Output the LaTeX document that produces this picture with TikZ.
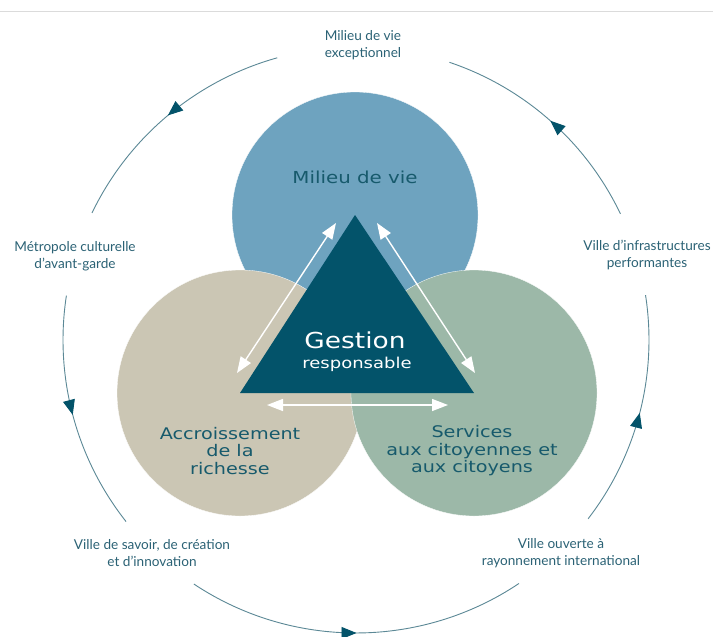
\documentclass[tikz,border=0pt]{standalone}
\usepackage{fontspec}
\setmainfont{Lato}
\newfontfamily\techfont{DejaVu Sans}
\usetikzlibrary{arrows.meta,decorations.markings}
\definecolor{blucirc}{HTML}{6EA3BF}
\definecolor{begcirc}{HTML}{CBC6B4}
\definecolor{grncirc}{HTML}{9CB8A8}
\definecolor{tricol}{HTML}{03536A}
\definecolor{techcol}{HTML}{175A6C}
\definecolor{outcol}{HTML}{2B6275}
\definecolor{arccol}{HTML}{5B8896}
\newcommand{\tx}[1]{\scalebox{1.2}[1]{#1}}
\tikzset{
  outer/.style={text=outcol, align=center, inner sep=0pt, font=\fontsize{13.6}{17}\selectfont},
  tech/.style={text=techcol, align=center, inner sep=0pt, font=\techfont\fontsize{16}{17.5}\selectfont},
  cycarc/.style={draw=arccol, line width=0.9pt, postaction={decorate},
    decoration={markings, mark=at position 0.5 with {\arrow[tricol]{Triangle[length=15pt,width=12pt]}}}},
  whitearr/.style={draw=white, line width=1.4pt, {Triangle[length=16pt,width=12pt]}-{Triangle[length=16pt,width=12pt]}},
  circ/.style={draw=white, line width=0.3pt}
}
\begin{document}
\begin{tikzpicture}[x=1pt,y=-1pt]
\useasboundingbox (0,0) rectangle (713,637);
\fill[white] (0,0) rectangle (713,637);
\draw[color=black!14, line width=1pt] (0,11.5) -- (713,11.5);
% circles
\coordinate (cB) at (355,215);
\coordinate (cL) at (240,393);
\coordinate (cR) at (474,393);
\fill[blucirc,circ] (cB) circle[radius=123];
\fill[begcirc,circ] (cL) circle[radius=123];
\fill[grncirc,circ] (cR) circle[radius=123];
% triangle
\fill[tricol] (cB) -- (cL) -- (cR) -- cycle;
% white double arrows
\coordinate (aL1) at (336,223); \coordinate (aL2) at (237,373);
\coordinate (aR1) at (377,223); \coordinate (aR2) at (475,373);
\coordinate (aB1) at (267,405); \coordinate (aB2) at (448,405);
\draw[whitearr] (aL1) -- (aL2);
\draw[whitearr] (aR1) -- (aR2);
\draw[whitearr] (aB1) -- (aB2);
% center texts
\node[text=white, inner sep=0pt, font=\techfont\fontsize{22}{22}\selectfont, anchor=base] (gest) at (355,348) {\tx{Gestion}};
\node[text=white, inner sep=0pt, font=\techfont\fontsize{15}{15}\selectfont, anchor=base] (resp) at (357,368) {\tx{responsable}};
\node[tech, font=\techfont\fontsize{16.5}{18}\selectfont, anchor=base] (milieu) at (355,183) {\tx{Milieu de vie}};
\node[tech] (accr) at (230,451) {\tx{Accroissement}\\\tx{de la}\\\tx{richesse}};
\node[tech] (serv) at (472,451) {\tx{Services}\\\tx{aux citoyennes et}\\\tx{aux citoyens}};
% outer cycle
\coordinate (C) at (356,340);
\draw[cycarc] ([shift={(-105.6:293)}]C) arc[start angle=-105.6, end angle=-154.3, radius=293];
\draw[cycarc] ([shift={(-171.3:293)}]C) arc[start angle=-171.3, end angle=-218.3, radius=293];
\draw[cycarc] ([shift={(-236.4:293)}]C) arc[start angle=-236.4, end angle=-303.8, radius=293];
\draw[cycarc] ([shift={(-322.4:293)}]C) arc[start angle=-322.4, end angle=-368.8, radius=293];
\draw[cycarc] ([shift={(-385.5:293)}]C) arc[start angle=-385.5, end angle=-431.4, radius=293];
% outer labels
\node[outer] (l1) at (363,45) {Milieu de vie\\exceptionnel};
\node[outer] (l2) at (75,256) {Métropole culturelle\\d’avant-garde};
\node[outer] (l3) at (152,553) {Ville de savoir, de création\\et d’innovation};
\node[outer] (l4) at (561,553) {Ville ouverte à\\rayonnement international};
\node[outer] (l5) at (647,255) {Ville d’infrastructures\\performantes};
\end{tikzpicture}
\end{document}
